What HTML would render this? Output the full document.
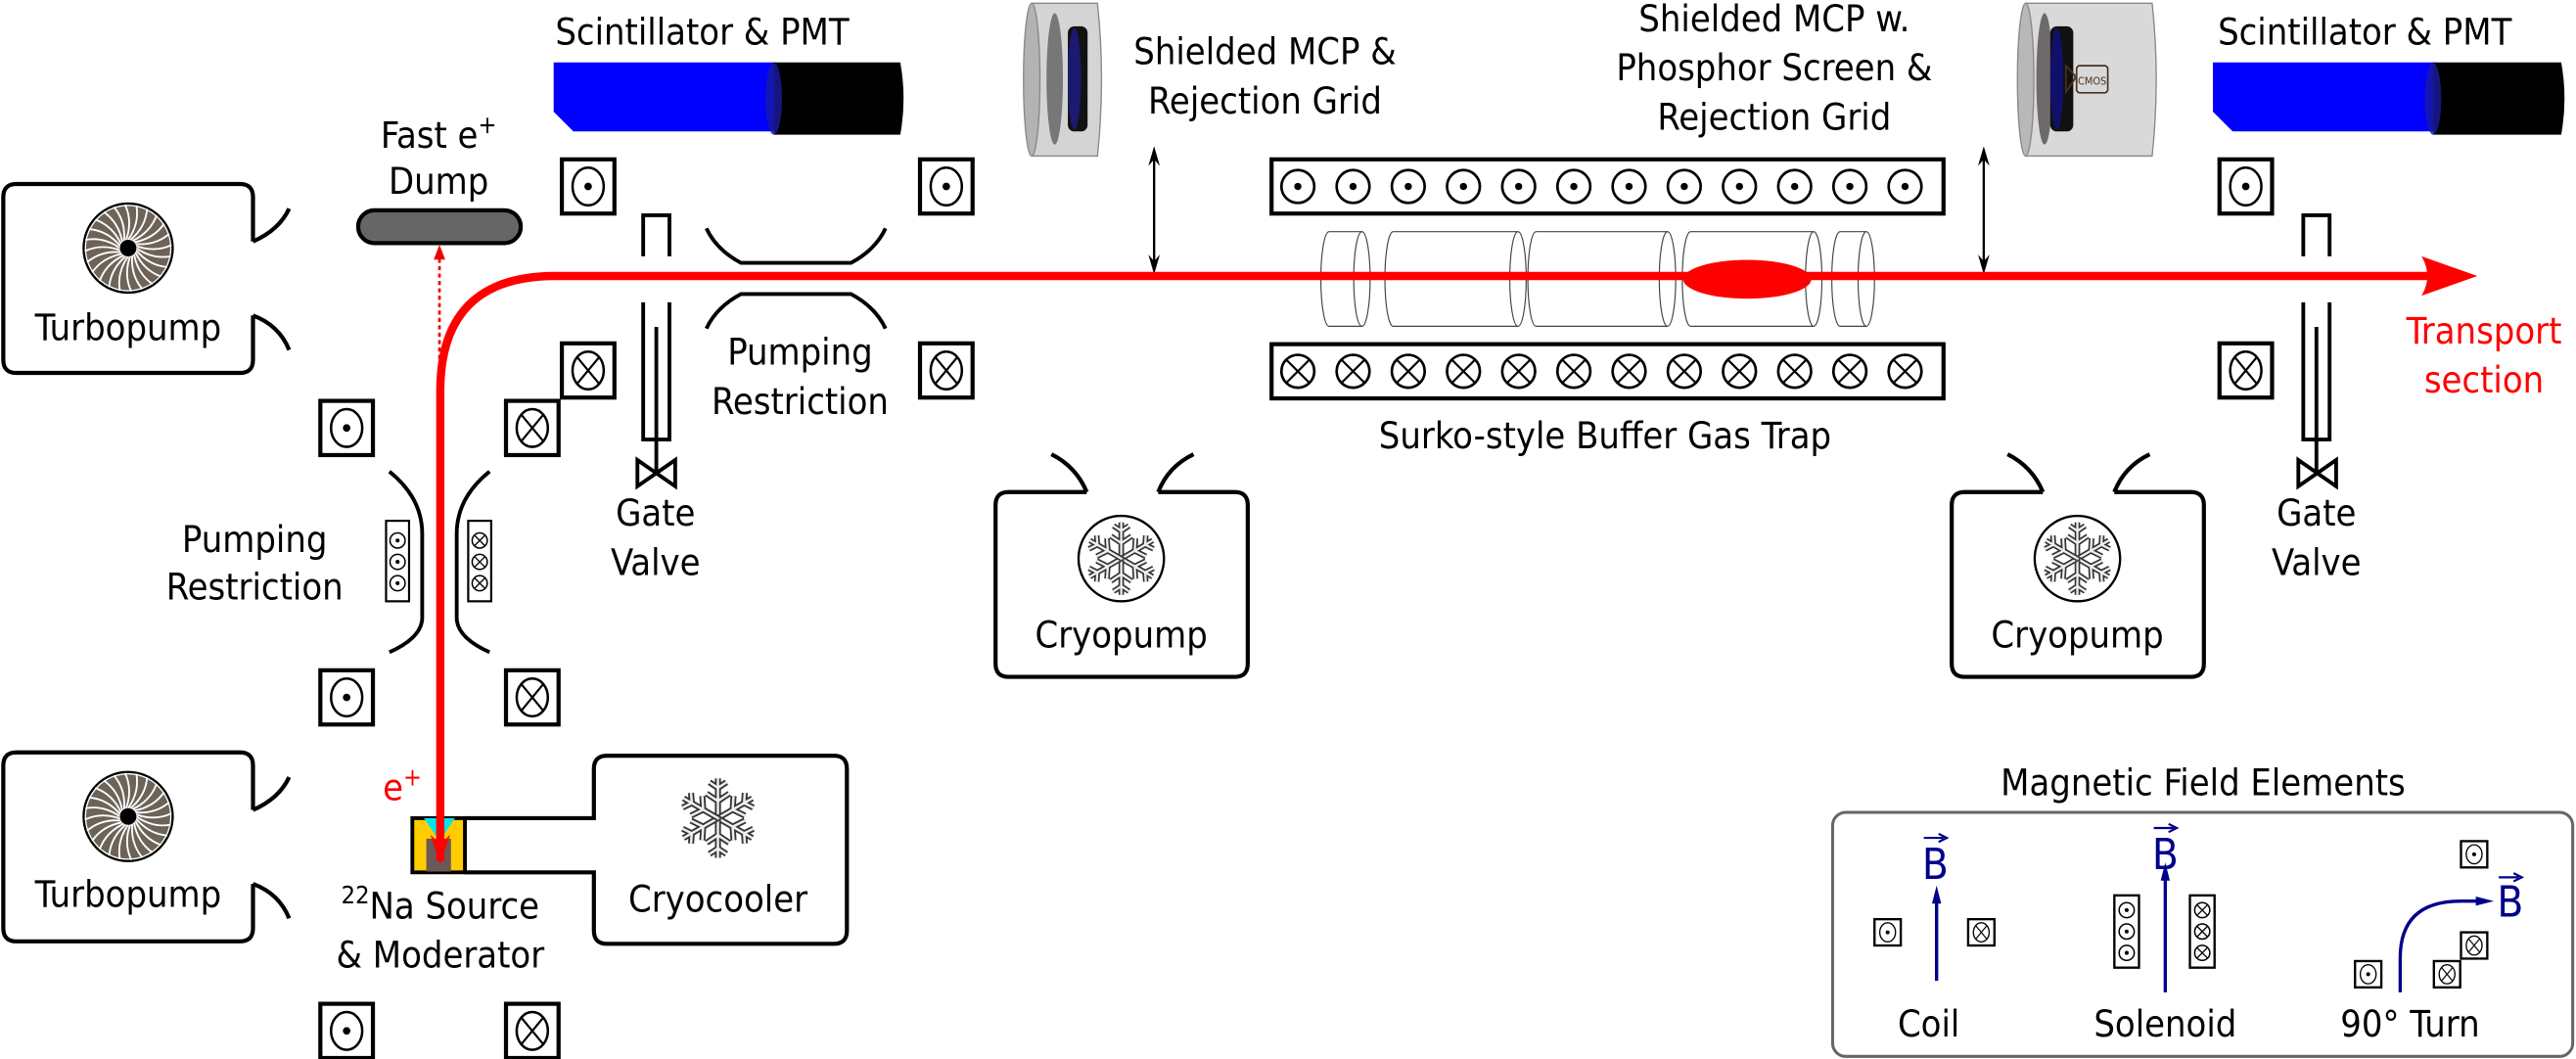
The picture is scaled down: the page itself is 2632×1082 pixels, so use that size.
<!DOCTYPE html>
<html><head><meta charset="utf-8"><style>
html,body{margin:0;padding:0;background:#fff;}
svg{display:block;}
text{font-family:"DejaVu Sans Condensed","DejaVu Sans","Liberation Sans",sans-serif;font-stretch:condensed;font-size:22.5px;fill:#000;}
</style></head><body>
<svg width="2632" height="1082" viewBox="0 0 1568 644.6" preserveAspectRatio="none" xmlns="http://www.w3.org/2000/svg">
<defs>
  <g id="cd"><rect x="0" y="0" width="32" height="33" fill="#fff" stroke="#000" stroke-width="2.5"/><ellipse cx="16" cy="16.5" rx="9.5" ry="11.5" fill="none" stroke="#000" stroke-width="1.5"/><circle cx="16" cy="16.5" r="2.3"/></g>
  <g id="cx"><rect x="0" y="0" width="32" height="33" fill="#fff" stroke="#000" stroke-width="2.5"/><ellipse cx="16" cy="16.5" rx="9.5" ry="11.5" fill="none" stroke="#000" stroke-width="1.5"/><path d="M9.3,8.4 L22.7,24.6 M22.7,8.4 L9.3,24.6" stroke="#000" stroke-width="1.3"/></g>
  <g id="tcd"><circle r="10" fill="none" stroke="#000" stroke-width="1.6"/><circle r="2.2"/></g>
  <g id="tcx"><circle r="10" fill="none" stroke="#000" stroke-width="1.6"/><path d="M-7,-7 L7,7 M7,-7 L-7,7" stroke="#000" stroke-width="1.3"/></g>
  <g id="scd"><circle r="4.6" fill="none" stroke="#000" stroke-width="0.9"/><circle r="1.2"/></g>
  <g id="scx"><circle r="4.6" fill="none" stroke="#000" stroke-width="0.9"/><path d="M-3.2,-3.2 L3.2,3.2 M3.2,-3.2 L-3.2,3.2" stroke="#000" stroke-width="0.8"/></g>
  <path id="blade" d="M0,-5 Q7,-15 5,-26" fill="none" stroke="#fff" stroke-width="1.1"/>
  <g id="fan">
    <circle r="27" fill="#6e6358" stroke="#000" stroke-width="1.6"/>
    <use href="#blade" transform="rotate(0)"/><use href="#blade" transform="rotate(15)"/><use href="#blade" transform="rotate(30)"/><use href="#blade" transform="rotate(45)"/><use href="#blade" transform="rotate(60)"/><use href="#blade" transform="rotate(75)"/><use href="#blade" transform="rotate(90)"/><use href="#blade" transform="rotate(105)"/><use href="#blade" transform="rotate(120)"/><use href="#blade" transform="rotate(135)"/><use href="#blade" transform="rotate(150)"/><use href="#blade" transform="rotate(165)"/><use href="#blade" transform="rotate(180)"/><use href="#blade" transform="rotate(195)"/><use href="#blade" transform="rotate(210)"/><use href="#blade" transform="rotate(225)"/><use href="#blade" transform="rotate(240)"/><use href="#blade" transform="rotate(255)"/><use href="#blade" transform="rotate(270)"/><use href="#blade" transform="rotate(285)"/><use href="#blade" transform="rotate(300)"/><use href="#blade" transform="rotate(315)"/><use href="#blade" transform="rotate(330)"/><use href="#blade" transform="rotate(345)"/>
    <circle r="26" fill="none" stroke="#fff" stroke-width="0.8"/>
    <circle r="5" fill="#000"/>
  </g>
  <g id="arm"><path d="M0,0 V-21 M-6,-13 L0,-9 L6,-13 M-4.5,-19 L0,-16 L4.5,-19" fill="none" stroke="#333" stroke-width="3.2"/><path d="M0,0 V-21 M-6,-13 L0,-9 L6,-13 M-4.5,-19 L0,-16 L4.5,-19" fill="none" stroke="#eee" stroke-width="1.3"/></g>
  <g id="flake"><use href="#arm"/><use href="#arm" transform="rotate(60)"/><use href="#arm" transform="rotate(120)"/><use href="#arm" transform="rotate(180)"/><use href="#arm" transform="rotate(240)"/><use href="#arm" transform="rotate(300)"/></g>
</defs>

<!-- Turbopumps -->
<g fill="none" stroke="#000" stroke-width="2.5">
  <path d="M154,147 V120 Q154,112 146,112 H10 Q2,112 2,120 V219 Q2,227 10,227 H146 Q154,227 154,219 V192"/>
  <path d="M154,147 Q170,140 176,127 M154,192 Q170,198 176,213"/>
  <path d="M154,493 V466 Q154,458 146,458 H10 Q2,458 2,466 V565 Q2,573 10,573 H146 Q154,573 154,565 V538"/>
  <path d="M154,493 Q170,486 176,473 M154,538 Q170,544 176,559"/>
</g>
<use href="#fan" x="78" y="151"/>
<use href="#fan" x="78" y="497"/>
<text x="78" y="207" text-anchor="middle">Turbopump</text>
<text x="78" y="552" text-anchor="middle">Turbopump</text>

<!-- Fast e+ dump -->
<text x="267" y="90" text-anchor="middle">Fast e<tspan font-size="15" dy="-9">+</tspan></text>
<text x="267" y="118" text-anchor="middle">Dump</text>
<rect x="218" y="128" width="99" height="20" rx="10" fill="#666" stroke="#000" stroke-width="2.5"/>
<line x1="267.5" y1="232" x2="267.5" y2="156" stroke="#e00" stroke-width="1.6" stroke-dasharray="2.5,2"/>
<path d="M264,158 L267.5,149 L271,158 Z" fill="#e00"/>

<!-- Scintillators -->
<text x="338" y="27">Scintillator &amp; PMT</text>
<path d="M337,38 H472 V80 H349 L337,68 Z" fill="#0000ff"/>
<path d="M471,38 H548 Q552,60 548,82 H471 Z" fill="#000"/>
<ellipse cx="471" cy="60" rx="5" ry="22" fill="#1a1aa0" opacity="0.8"/>
<text x="1350" y="27">Scintillator &amp; PMT</text>
<path d="M1347,38 H1482 V80 H1359 L1347,68 Z" fill="#0000ff"/>
<path d="M1481,38 H1559 Q1563,60 1559,82 H1481 Z" fill="#000"/>
<ellipse cx="1481" cy="60" rx="5" ry="22" fill="#1a1aa0" opacity="0.8"/>

<!-- Coils -->
<use href="#cd" x="342" y="97"/><use href="#cd" x="560" y="97"/>
<use href="#cx" x="342" y="209"/><use href="#cx" x="560" y="209"/>
<use href="#cd" x="195" y="244"/><use href="#cx" x="308" y="244"/>
<use href="#cd" x="195" y="408"/><use href="#cx" x="308" y="408"/>
<use href="#cd" x="195" y="611"/><use href="#cx" x="308" y="611"/>
<use href="#cd" x="1351" y="97"/><use href="#cx" x="1351" y="209"/>

<!-- Gate valves -->
<g fill="none" stroke="#000" stroke-width="2.3">
  <path d="M391.5,156 V131 H407.5 V156"/>
  <path d="M391.5,184 V267.5 H407.5 V184 M399.5,199 V267.5 V288"/>
  <path d="M388,280 L411,296 V280 L388,296 Z"/>
  <path d="M1402,156 V131 H1418 V156"/>
  <path d="M1402,184 V267.5 H1418 V184 M1410,199 V267.5 V288"/>
  <path d="M1399,280 L1422,296 V280 L1399,296 Z"/>
</g>
<text x="399" y="320" text-anchor="middle">Gate</text>
<text x="399" y="350" text-anchor="middle">Valve</text>
<text x="1410" y="320" text-anchor="middle">Gate</text>
<text x="1410" y="350" text-anchor="middle">Valve</text>

<!-- Top pumping restriction -->
<g fill="none" stroke="#000" stroke-width="2.3">
  <path d="M430,139 Q436,152 451,160 H518 Q533,152 539,139"/>
  <path d="M430,200 Q436,187 451,179 H518 Q533,187 539,200"/>
</g>
<text x="487" y="222" text-anchor="middle">Pumping</text>
<text x="487" y="252" text-anchor="middle">Restriction</text>

<!-- Left pumping restriction -->
<g fill="none" stroke="#000" stroke-width="2.3">
  <path d="M237,287 Q257,303 257,325 V376 Q257,388 237,397"/>
  <path d="M298,287 Q278,303 278,325 V376 Q278,388 298,397"/>
</g>
<rect x="235" y="317" width="14" height="49" fill="#fff" stroke="#000" stroke-width="1.3"/>
<use href="#scd" x="242" y="329"/><use href="#scd" x="242" y="342"/><use href="#scd" x="242" y="355"/>
<rect x="285" y="317" width="14" height="49" fill="#fff" stroke="#000" stroke-width="1.3"/>
<use href="#scx" x="292" y="329"/><use href="#scx" x="292" y="342"/><use href="#scx" x="292" y="355"/>
<text x="155" y="336" text-anchor="middle">Pumping</text>
<text x="155" y="365" text-anchor="middle">Restriction</text>

<!-- Source and cryocooler -->
<path d="M283,498 H361.5 V468 Q361.5,460 369.5,460 H507.5 Q515.5,460 515.5,468 V566.5 Q515.5,574.5 507.5,574.5 H369.5 Q361.5,574.5 361.5,566.5 V531 H283" fill="none" stroke="#000" stroke-width="2.5"/>
<rect x="251" y="498" width="32" height="33" fill="#ffcc00" stroke="#000" stroke-width="2.3"/>
<path d="M258,498 H277 L267.5,512 Z" fill="#00e5ee"/>
<rect x="259.5" y="510.5" width="15" height="20" fill="#6b5858"/>
<use href="#flake" transform="translate(437,498) scale(1.15)"/>
<text x="437" y="555" text-anchor="middle">Cryocooler</text>
<text x="233" y="487" style="fill:#f00">e<tspan font-size="15" dy="-9" style="fill:#f00">+</tspan></text>
<text x="268" y="559" text-anchor="middle"><tspan font-size="15" dy="-9">22</tspan><tspan dy="9">Na Source</tspan></text>
<text x="268" y="589" text-anchor="middle">&amp; Moderator</text>

<!-- MCP 1 -->
<path d="M628,2 H668 Q673,48 668,95 H628 Z" fill="#d4d4d4" stroke="#888" stroke-width="0.8"/>
<ellipse cx="628" cy="48.5" rx="5" ry="46.5" fill="#b3b3b3" stroke="#888" stroke-width="0.8"/>
<ellipse cx="642" cy="48" rx="5" ry="40" fill="#777"/>
<rect x="650" y="16" width="12" height="64" rx="4" fill="#111"/>
<ellipse cx="654" cy="48" rx="4" ry="31" fill="#1a1a70"/>
<text x="770" y="39" text-anchor="middle">Shielded MCP &amp;</text>
<text x="770" y="69" text-anchor="middle">Rejection Grid</text>
<g stroke="#000" stroke-width="1.4"><line x1="702.5" y1="92" x2="702.5" y2="164"/></g>
<path d="M699,101 L702.5,89 L706,101 L702.5,97 Z M699,155 L702.5,167 L706,155 L702.5,159 Z"/>

<!-- MCP 2 -->
<path d="M1233,2 H1310 Q1315,48 1310,95 H1233 Z" fill="#d9d9d9" stroke="#888" stroke-width="0.8"/>
<ellipse cx="1233" cy="48.5" rx="5" ry="46.5" fill="#b8b8b8" stroke="#888" stroke-width="0.8"/>
<ellipse cx="1244.5" cy="48" rx="5" ry="40" fill="#6f6a6a"/>
<rect x="1248" y="16" width="14" height="64" rx="4" fill="#111"/>
<ellipse cx="1252" cy="48" rx="4" ry="31" fill="#10106a"/>
<path d="M1257.5,40 L1263,46 V48 L1257.5,56 Z" fill="none" stroke="#4a3020" stroke-width="1"/>
<rect x="1264" y="40" width="19" height="16.5" rx="2" fill="none" stroke="#4a3020" stroke-width="1"/>
<text x="1273.5" y="51.5" text-anchor="middle" style="font-size:6.5px;fill:#4a3020">CMOS</text>
<text x="1080" y="19" text-anchor="middle">Shielded MCP w.</text>
<text x="1080" y="49" text-anchor="middle">Phosphor Screen &amp;</text>
<text x="1080" y="79" text-anchor="middle">Rejection Grid</text>
<line x1="1207.5" y1="92" x2="1207.5" y2="164" stroke="#000" stroke-width="1.4"/>
<path d="M1204,101 L1207.5,89 L1211,101 L1207.5,97 Z M1204,155 L1207.5,167 L1211,155 L1207.5,159 Z"/>

<!-- Trap -->
<rect x="774" y="97" width="409" height="33" fill="#fff" stroke="#000" stroke-width="2.5"/>
<rect x="774" y="209.5" width="409" height="33" fill="#fff" stroke="#000" stroke-width="2.5"/>
<g>
<use href="#tcd" x="790" y="113.5"/><use href="#tcd" x="823.6" y="113.5"/><use href="#tcd" x="857.2" y="113.5"/><use href="#tcd" x="890.8" y="113.5"/><use href="#tcd" x="924.4" y="113.5"/><use href="#tcd" x="958" y="113.5"/><use href="#tcd" x="991.6" y="113.5"/><use href="#tcd" x="1025.2" y="113.5"/><use href="#tcd" x="1058.8" y="113.5"/><use href="#tcd" x="1092.4" y="113.5"/><use href="#tcd" x="1126" y="113.5"/><use href="#tcd" x="1159.6" y="113.5"/>
<use href="#tcx" x="790" y="226"/><use href="#tcx" x="823.6" y="226"/><use href="#tcx" x="857.2" y="226"/><use href="#tcx" x="890.8" y="226"/><use href="#tcx" x="924.4" y="226"/><use href="#tcx" x="958" y="226"/><use href="#tcx" x="991.6" y="226"/><use href="#tcx" x="1025.2" y="226"/><use href="#tcx" x="1058.8" y="226"/><use href="#tcx" x="1092.4" y="226"/><use href="#tcx" x="1126" y="226"/><use href="#tcx" x="1159.6" y="226"/>
</g>
<g fill="none" stroke="#444" stroke-width="0.7">
  <path d="M809,141 H829 M809,198.6 H829 M809,141 A5,28.8 0 0 0 809,198.6"/><ellipse cx="829" cy="169.8" rx="5" ry="28.8"/>
  <path d="M848,141 H924 M848,198.6 H924 M848,141 A5,28.8 0 0 0 848,198.6"/><ellipse cx="924" cy="169.8" rx="5" ry="28.8"/>
  <path d="M935,141 H1015 M935,198.6 H1015 M935,141 A5,28.8 0 0 0 935,198.6"/><ellipse cx="1015" cy="169.8" rx="5" ry="28.8"/>
  <path d="M1029,141 H1104 M1029,198.6 H1104 M1029,141 A5,28.8 0 0 0 1029,198.6"/><ellipse cx="1104" cy="169.8" rx="5" ry="28.8"/>
  <path d="M1120,141 H1136 M1120,198.6 H1136 M1120,141 A5,28.8 0 0 0 1120,198.6"/><ellipse cx="1136" cy="169.8" rx="5" ry="28.8"/>
</g>
<text x="977" y="273" text-anchor="middle">Surko-style Buffer Gas Trap</text>

<!-- Beam -->
<path d="M268,524 V238 Q268,168 338,168 H1480" fill="none" stroke="#f00" stroke-width="5"/>
<path d="M1474,156 L1508,168 L1474,180 Q1481,168 1474,156 Z" fill="#f00"/>
<ellipse cx="1063.5" cy="170" rx="39" ry="11.8" fill="#f00"/>
<path d="M262,508 L268,526 L274,508 L268,514 Z" fill="#f00"/>
<text x="1512" y="209" text-anchor="middle" style="fill:#f00">Transport</text>
<text x="1512" y="239" text-anchor="middle" style="fill:#f00">section</text>

<!-- Cryopumps -->
<g fill="none" stroke="#000" stroke-width="2.5">
  <path d="M661.5,299.5 H614 Q606,299.5 606,307.5 V404 Q606,412 614,412 H751.5 Q759.5,412 759.5,404 V307.5 Q759.5,299.5 751.5,299.5 H705"/>
  <path d="M661.5,299.5 Q655,284 640,276.5 M705,299.5 Q711,284 726.5,276.5"/>
  <path d="M1243.5,299.5 H1196 Q1188,299.5 1188,307.5 V404 Q1188,412 1196,412 H1333.5 Q1341.5,412 1341.5,404 V307.5 Q1341.5,299.5 1333.5,299.5 H1287"/>
  <path d="M1243.5,299.5 Q1237,284 1222,276.5 M1287,299.5 Q1293,284 1308.5,276.5"/>
</g>
<circle cx="682.5" cy="340" r="26" fill="#fff" stroke="#000" stroke-width="1.4"/>
<use href="#flake" transform="translate(682.5,340) scale(1.05)"/>
<circle cx="1264.5" cy="340" r="26" fill="#fff" stroke="#000" stroke-width="1.4"/>
<use href="#flake" transform="translate(1264.5,340) scale(1.05)"/>
<text x="682.5" y="394" text-anchor="middle">Cryopump</text>
<text x="1264.5" y="394" text-anchor="middle">Cryopump</text>

<!-- Legend -->
<text x="1341" y="484" text-anchor="middle">Magnetic Field Elements</text>
<rect x="1115.5" y="494.5" width="450.5" height="148.5" rx="8" fill="none" stroke="#666" stroke-width="1.8"/>
<g>
  <rect x="1141" y="559.5" width="16" height="16" fill="#fff" stroke="#000" stroke-width="1.4"/>
  <ellipse cx="1149" cy="567.5" rx="4.8" ry="5.8" fill="none" stroke="#000" stroke-width="0.8"/><circle cx="1149" cy="567.5" r="1.2"/>
  <rect x="1198" y="559.5" width="16" height="16" fill="#fff" stroke="#000" stroke-width="1.4"/>
  <ellipse cx="1206" cy="567.5" rx="4.8" ry="5.8" fill="none" stroke="#000" stroke-width="0.8"/><path d="M1202.6,563.4 L1209.4,571.6 M1209.4,563.4 L1202.6,571.6" stroke="#000" stroke-width="0.7"/>
</g>
<line x1="1178.8" y1="597" x2="1178.8" y2="546" stroke="#00008b" stroke-width="2"/>
<path d="M1176,550 L1178.8,539 L1181.6,550 Z" fill="#00008b"/>
<text x="1178" y="535" text-anchor="middle" style="fill:#00008b;font-size:26px">B</text>
<path d="M1171,510 H1183 M1180,507.5 L1185,510 L1180,512.5" fill="none" stroke="#00008b" stroke-width="1.3"/>
<text x="1174" y="631" text-anchor="middle">Coil</text>

<rect x="1287" y="545" width="15" height="44" fill="#fff" stroke="#000" stroke-width="1.4"/>
<use href="#scd" x="1294.5" y="554"/><use href="#scd" x="1294.5" y="567"/><use href="#scd" x="1294.5" y="580"/>
<rect x="1333" y="545" width="15" height="44" fill="#fff" stroke="#000" stroke-width="1.4"/>
<use href="#scx" x="1340.5" y="554"/><use href="#scx" x="1340.5" y="567"/><use href="#scx" x="1340.5" y="580"/>
<line x1="1318" y1="604" x2="1318" y2="532" stroke="#00008b" stroke-width="2"/>
<path d="M1315.2,536 L1318,525 L1320.8,536 Z" fill="#00008b"/>
<text x="1318" y="529" text-anchor="middle" style="fill:#00008b;font-size:26px">B</text>
<path d="M1311,504 H1323 M1320,501.5 L1325,504 L1320,506.5" fill="none" stroke="#00008b" stroke-width="1.3"/>
<text x="1318" y="631" text-anchor="middle">Solenoid</text>

<g>
  <rect x="1498" y="512" width="16" height="16" fill="#fff" stroke="#000" stroke-width="1.4"/>
  <ellipse cx="1506" cy="520" rx="4.8" ry="5.8" fill="none" stroke="#000" stroke-width="0.8"/><circle cx="1506" cy="520" r="1.2"/>
  <rect x="1498" y="567.5" width="16" height="16" fill="#fff" stroke="#000" stroke-width="1.4"/>
  <ellipse cx="1506" cy="575.5" rx="4.8" ry="5.8" fill="none" stroke="#000" stroke-width="0.8"/><path d="M1502.6,571.4 L1509.4,579.6 M1509.4,571.4 L1502.6,579.6" stroke="#000" stroke-width="0.7"/>
  <rect x="1481.5" y="585" width="16" height="16" fill="#fff" stroke="#000" stroke-width="1.4"/>
  <ellipse cx="1489.5" cy="593" rx="4.8" ry="5.8" fill="none" stroke="#000" stroke-width="0.8"/><path d="M1486.1,588.9 L1492.9,597.1 M1492.9,588.9 L1486.1,597.1" stroke="#000" stroke-width="0.7"/>
  <rect x="1433.5" y="585" width="16" height="16" fill="#fff" stroke="#000" stroke-width="1.4"/>
  <ellipse cx="1441.5" cy="593" rx="4.8" ry="5.8" fill="none" stroke="#000" stroke-width="0.8"/><circle cx="1441.5" cy="593" r="1.2"/>
</g>
<path d="M1461,604 V583 Q1461,548.5 1498,548.5 H1510" fill="none" stroke="#00008b" stroke-width="2"/>
<path d="M1507,545.7 L1518,548.5 L1507,551.3 Z" fill="#00008b"/>
<text x="1528" y="558" text-anchor="middle" style="fill:#00008b;font-size:26px">B</text>
<path d="M1521,534 H1533 M1530,531.5 L1535,534 L1530,536.5" fill="none" stroke="#00008b" stroke-width="1.3"/>
<text x="1467" y="631" text-anchor="middle">90° Turn</text>
</svg>
</body></html>
